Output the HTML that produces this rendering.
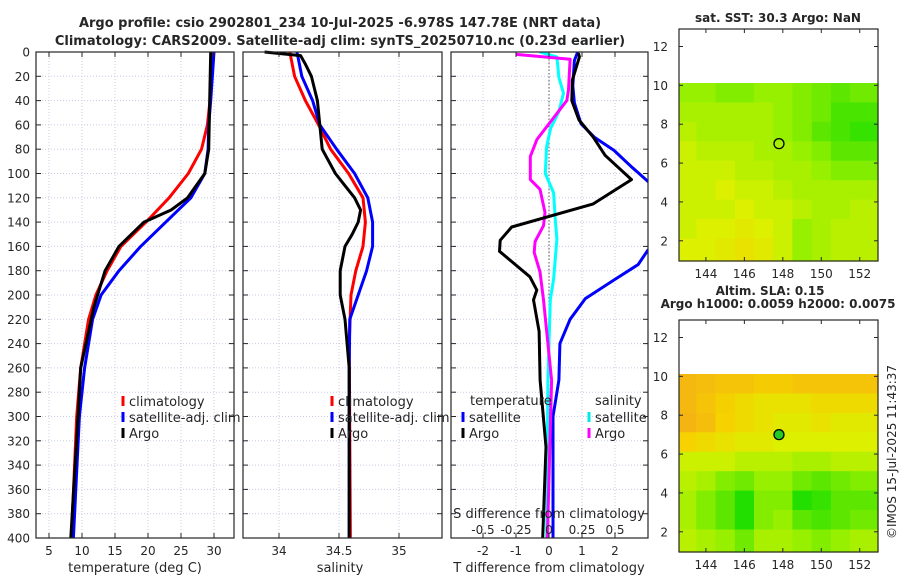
<!DOCTYPE html>
<html><head><meta charset="utf-8"><style>
body{margin:0;background:#fff;}
svg{display:block;font-family:"DejaVu Sans","Liberation Sans",sans-serif;}
</style></head><body>
<svg id="c" width="900" height="580" viewBox="0 0 900 580" xmlns="http://www.w3.org/2000/svg"></svg>
<script>
// ---- data ----
const depthTicks=[0,20,40,60,80,100,120,140,160,180,200,220,240,260,280,300,320,340,360,380,400];
const tempTicks=[5,10,15,20,25,30];
const salTicks=[34,34.5,35];
const tdiffTicks=[-2,-1,0,1,2];
const sdiffTicks=[-0.5,-0.25,0,0.25,0.5];
const tempClimDepth=[0,40,60,80,100,120,140,160,180,200,220,260,300,400];
const tempClim=[29.7,29.4,29.0,28.1,26.1,23.2,19.7,15.9,13.8,12.1,11.0,9.8,9.2,8.4];
const tempSatDepth=[0,40,60,80,100,120,140,160,180,200,220,260,300,400];
const tempSat=[30.0,29.5,29.2,29.1,28.6,26.5,22.7,18.9,15.6,12.9,11.6,10.4,9.6,8.7];
const tempArgoDepth=[0,80,100,120,130,140,160,180,210,220,260,300,400];
const tempArgo=[29.5,29.2,28.6,26.0,23.5,19.4,15.6,13.5,11.8,11.4,9.8,9.4,8.3];
const salArgoDepth=[0,3,10,20,40,60,80,100,110,120,130,140,150,160,180,200,220,260,400];
const salArgo=[33.88,34.18,34.22,34.27,34.32,34.34,34.36,34.47,34.55,34.63,34.68,34.66,34.61,34.55,34.51,34.51,34.55,34.585,34.585];
const salClimDepth=[0,20,40,60,80,100,120,140,160,180,200,240,400];
const salClim=[34.09,34.13,34.22,34.33,34.43,34.58,34.70,34.72,34.70,34.64,34.60,34.585,34.595];
const salSatDepth=[0,20,40,60,80,100,120,140,160,180,200,220,260,400];
const salSat=[34.15,34.19,34.28,34.34,34.48,34.63,34.74,34.78,34.78,34.73,34.66,34.59,34.585,34.585];
const dTArgoDepth=[1,4,23,40,56,70,85,105,125,144,155,164,185,196,204,230,270,325,400];
const dTArgo=[0.89,0.92,0.71,0.69,0.91,1.34,1.70,2.5,1.34,-1.13,-1.48,-1.5,-0.58,-0.37,-0.47,-0.3,-0.27,-0.09,-0.19];
const dTSatDepth=[0,7,28,42,59,70,81,94,109,125,150,163,175,188,203,220,240,270,300,400];
const dTSat=[0.87,0.77,0.72,0.77,0.97,1.37,1.97,2.48,3.1,3.6,3.6,3.0,2.7,1.95,1.1,0.64,0.33,0.3,0.12,0.12];
const dSSatDepth=[0,4,21,34,49,63,78,100,116,138,154,187,204,270,400];
const dSSat=[-0.07,0.06,0.075,0.11,0.075,0.012,-0.018,-0.028,0.035,0.048,0.06,0.035,0.01,-0.008,-0.018];
const dSArgoDepth=[2,6,31,40,72,86,105,113,132,143,156,165,181,204,270,400];
const dSArgo=[-0.25,0.16,0.148,0.135,-0.092,-0.142,-0.142,-0.068,-0.03,-0.042,-0.105,-0.112,-0.068,-0.042,0.02,-0.012];
const mapLon=[143,144,145,146,147,148,149,150,151,152];
const mapLat=[10,9,8,7,6,5,4,3,2];
const sstGrid=[
[0.35,0.35,0.3,0.3,0.35,0.35,0.3,0.25,0.2,0.25],
[0.4,0.4,0.4,0.4,0.4,0.35,0.3,0.25,0.15,0.15],
[0.45,0.4,0.4,0.4,0.4,0.35,0.3,0.2,0.15,0.1],
[0.5,0.45,0.45,0.45,0.4,0.4,0.35,0.3,0.2,0.2],
[0.5,0.5,0.5,0.45,0.45,0.4,0.4,0.35,0.3,0.3],
[0.5,0.5,0.55,0.5,0.5,0.45,0.4,0.4,0.4,0.4],
[0.5,0.5,0.5,0.55,0.5,0.5,0.45,0.4,0.4,0.45],
[0.5,0.55,0.55,0.6,0.55,0.5,0.35,0.4,0.45,0.45],
[0.55,0.55,0.6,0.65,0.6,0.5,0.35,0.4,0.45,0.45]];
const slaGrid=[
[0.88,0.85,0.82,0.82,0.78,0.78,0.82,0.82,0.82,0.82],
[0.88,0.82,0.76,0.7,0.65,0.65,0.65,0.7,0.7,0.7],
[0.9,0.85,0.75,0.7,0.65,0.6,0.6,0.65,0.6,0.6],
[0.75,0.7,0.65,0.6,0.6,0.55,0.55,0.55,0.55,0.55],
[0.5,0.5,0.5,0.45,0.45,0.45,0.4,0.4,0.45,0.45],
[0.45,0.4,0.3,0.25,0.35,0.35,0.25,0.2,0.25,0.3],
[0.4,0.3,0.2,0.05,0.3,0.3,0.05,0.1,0.2,0.2],
[0.4,0.3,0.2,0.05,0.3,0.35,0.2,0.15,0.2,0.25],
[0.45,0.4,0.35,0.25,0.4,0.4,0.35,0.3,0.35,0.4]];
const argoLon=147.8, argoLat=7.0;
const mapXTicks=[144,146,148,150,152];
const mapYTicks=[2,4,6,8,10,12];

// ---- helpers ----
const svg=document.getElementById('c');
const NS='http://www.w3.org/2000/svg';
function el(tag,attrs,parent){const e=document.createElementNS(NS,tag);for(const k in attrs)e.setAttribute(k,attrs[k]);(parent||svg).appendChild(e);return e;}
function txt(s,x,y,size,anchor,weight,parent){const t=el('text',{x:x,y:y,'font-size':size,'text-anchor':anchor||'middle','font-weight':weight||'normal',fill:'#262626'},parent);t.textContent=s;return t;}
const TOP=52,BOT=538;
const yD=d=>TOP+(d/400)*(BOT-TOP);

function panel(name,x0,x1,xfn,xticks){
  const g=el('g',{});
  
  
  depthTicks.forEach(d=>{el('line',{x1:x0,x2:x1,y1:yD(d),y2:yD(d),stroke:'#c6cbe8','stroke-width':1,'stroke-dasharray':'1,2'},g);});
  xticks.forEach(v=>{el('line',{x1:xfn(v),x2:xfn(v),y1:TOP,y2:BOT,stroke:'#d6c6e0','stroke-width':1,'stroke-dasharray':'1,2'},g);});
  return g;
}
function frame(g,x0,x1,xfn,xticks){
  el('rect',{x:x0,y:TOP,width:x1-x0,height:BOT-TOP,fill:'none',stroke:'#262626','stroke-width':1.2},g);
  depthTicks.forEach(d=>{el('line',{x1:x0,x2:x0+5,y1:yD(d),y2:yD(d),stroke:'#262626'},g);el('line',{x1:x1-5,x2:x1,y1:yD(d),y2:yD(d),stroke:'#262626'},g);});
  xticks.forEach(v=>{el('line',{x1:xfn(v),x2:xfn(v),y1:BOT,y2:BOT-5,stroke:'#262626'},g);el('line',{x1:xfn(v),x2:xfn(v),y1:TOP,y2:TOP+5,stroke:'#262626'},g);});
}
function line(g,name,depths,vals,xfn,color,w,clip){
  const pts=depths.map((d,i)=>xfn(vals[i]).toFixed(1)+','+yD(d).toFixed(1)).join(' ');
  const p=el('polyline',{points:pts,fill:'none',stroke:color,'stroke-width':w||3,'stroke-linejoin':'round'},g);
  if(clip)p.setAttribute('clip-path','url(#'+clip+')');
  
  
}
function legendEntry(g,name,x,y,color,label){
  const gg=el('g',{},g);
  
  
  if(color)el('rect',{x:x-1.5,y:y-10,width:3,height:10,fill:color},gg);
  txt(label,x+6,y,13,'start','normal',gg);
}

const title=el('g',{});


txt('Argo profile: csio 2902801_234 10-Jul-2025 -6.978S 147.78E (NRT data)',340,27,13,'middle','bold',title);
txt('Climatology: CARS2009. Satellite-adj clim: synTS_20250710.nc (0.23d earlier)',340,45,13,'middle','bold',title);

const defs=el('defs',{});
const cp=el('clipPath',{id:'clip3'},defs);
el('rect',{x:451,y:TOP,width:197,height:BOT-TOP},cp);

const dl=el('g',{});


depthTicks.forEach(d=>txt(String(d),30,yD(d)+4.5,12,'end','normal',dl));

const xT=t=>49+(t-5)*6.6;
const g1=panel('temperature-panel',36,234,xT,tempTicks);
line(g1,'temperature-climatology-line',tempClimDepth,tempClim,xT,'#ff0000');
line(g1,'temperature-satellite-line',tempSatDepth,tempSat,xT,'#0000ff');
line(g1,'temperature-argo-line',tempArgoDepth,tempArgo,xT,'#000000');
frame(g1,36,234,xT,tempTicks);
tempTicks.forEach(v=>txt(String(v),xT(v),555,12,'middle','normal',g1));
txt('temperature (deg C)',135,572,13,'middle','normal',g1);
legendEntry(g1,'legend-climatology',123,406,'#ff0000','climatology');
legendEntry(g1,'legend-satellite-adj',123,422,'#0000ff','satellite-adj. clim');
legendEntry(g1,'legend-argo',123,438,'#000000','Argo');

const xS=s=>279+(s-34)*120;
const g2=panel('salinity-panel',243,442,xS,salTicks);
line(g2,'salinity-climatology-line',salClimDepth,salClim,xS,'#ff0000');
line(g2,'salinity-satellite-line',salSatDepth,salSat,xS,'#0000ff');
line(g2,'salinity-argo-line',salArgoDepth,salArgo,xS,'#000000');
frame(g2,243,442,xS,salTicks);
salTicks.forEach(v=>txt(String(v),xS(v),555,12,'middle','normal',g2));
txt('salinity',340,572,13,'middle','normal',g2);
legendEntry(g2,'legend-climatology-sal',332,406,'#ff0000','climatology');
legendEntry(g2,'legend-satellite-adj-sal',332,422,'#0000ff','satellite-adj. clim');
legendEntry(g2,'legend-argo-sal',332,438,'#000000','Argo');

const xD=t=>549+t*33;
const xDS=s=>xD(s*4);
const g3=panel('difference-panel',451,648,xD,tdiffTicks);
el('line',{x1:xD(0),x2:xD(0),y1:TOP,y2:BOT,stroke:'#555','stroke-width':1,'stroke-dasharray':'1.5,2'},g3);
line(g3,'tdiff-satellite-line',dTSatDepth,dTSat,xD,'#0000ff',3,'clip3');
line(g3,'sdiff-satellite-line',dSSatDepth,dSSat,xDS,'#00ffff',3,'clip3');
line(g3,'sdiff-argo-line',dSArgoDepth,dSArgo,xDS,'#ff00ff',3,'clip3');
line(g3,'tdiff-argo-line',dTArgoDepth,dTArgo,xD,'#000000',3,'clip3');
frame(g3,451,648,xD,tdiffTicks);
tdiffTicks.forEach(v=>txt(String(v),xD(v),555,12,'middle','normal',g3));
txt('T difference from climatology',549,572,13,'middle','normal',g3);
txt('S difference from climatology',549,518,13,'middle','normal',g3);
sdiffTicks.forEach(v=>txt(String(v),xDS(v),534,12,'middle','normal',g3));
txt('temperature',470,405,13,'start','normal',g3);
legendEntry(g3,'legend-tdiff-satellite',463,422,'#0000ff','satellite');
legendEntry(g3,'legend-tdiff-argo',463,438,'#000000','Argo');
txt('salinity',595,405,13,'start','normal',g3);
legendEntry(g3,'legend-sdiff-satellite',589,422,'#00e8e8','satellite');
legendEntry(g3,'legend-sdiff-argo',589,438,'#ff00ff','Argo');

const stops=[[0,[16,220,0]],[0.35,[150,240,0]],[0.55,[220,240,0]],[0.75,[245,210,0]],[1,[245,160,30]]];
function cmap(v){for(let i=1;i<stops.length;i++){if(v<=stops[i][0]){const a=stops[i-1],b=stops[i];const f=(v-a[0])/(b[0]-a[0]);const c=a[1].map((x,k)=>Math.round(x+(b[1][k]-x)*f));return 'rgb('+c.join(',')+')';}}return 'rgb(245,160,30)';}
function map(name,top,bot,grid,filled,titles){
  const x0=679,x1=878;
  const lonL=142.6,lonR=152.95,latB=0.96,latT=12.9;
  const mx=l=>x0+(l-lonL)/(lonR-lonL)*(x1-x0);
  const my=l=>bot-(l-latB)/(latT-latB)*(bot-top);
  const g=el('g',{});
  
  
  grid.forEach((row,r)=>row.forEach((v,c)=>{
    const la=mapLat[r], lo=mapLon[c];
    const xa=Math.max(x0,mx(lo-0.5)), xb=(c===row.length-1)?x1:mx(lo+0.5);
    const ya=my(la+0.12), yb=(r===grid.length-1)?bot:my(la-1+0.12);
    const rc=el('rect',{x:xa.toFixed(1),y:ya.toFixed(1),width:(xb-xa+0.6).toFixed(1),height:(yb-ya+0.6).toFixed(1),fill:cmap(v)},g);
    
    
  }));
  const mk=el('circle',{cx:mx(argoLon),cy:my(argoLat),r:5,fill:filled?'#22cc22':'none',stroke:'#000','stroke-width':1.3},g);
  
  
  el('rect',{x:x0,y:top,width:x1-x0,height:bot-top,fill:'none',stroke:'#262626','stroke-width':1.2},g);
  mapXTicks.forEach(v=>{el('line',{x1:mx(v),x2:mx(v),y1:bot,y2:bot-4,stroke:'#262626'},g);el('line',{x1:mx(v),x2:mx(v),y1:top,y2:top+4,stroke:'#262626'},g);txt(String(v),mx(v),bot+17,12,'middle','normal',g);});
  mapYTicks.forEach(v=>{el('line',{x1:x0,x2:x0+4,y1:my(v),y2:my(v),stroke:'#262626'},g);el('line',{x1:x1-4,x2:x1,y1:my(v),y2:my(v),stroke:'#262626'},g);txt(String(v),668,my(v)+4.5,12,'end','normal',g);});
  titles.forEach(t=>txt(t[0],t[1],t[2],12,'middle','bold',g));
}
map('sst-map',29,261,sstGrid,false,[['sat. SST: 30.3 Argo: NaN',778,22]]);
map('sla-map',320,552,slaGrid,true,[['Altim. SLA: 0.15',770,295],['Argo h1000: 0.0059 h2000: 0.0075',778,308]]);

const ts=txt('©IMOS 15-Jul-2025 11:43:37',0,0,12,'middle','normal');
ts.setAttribute('transform','translate(896,452) rotate(-90)');


</script>
</body></html>
